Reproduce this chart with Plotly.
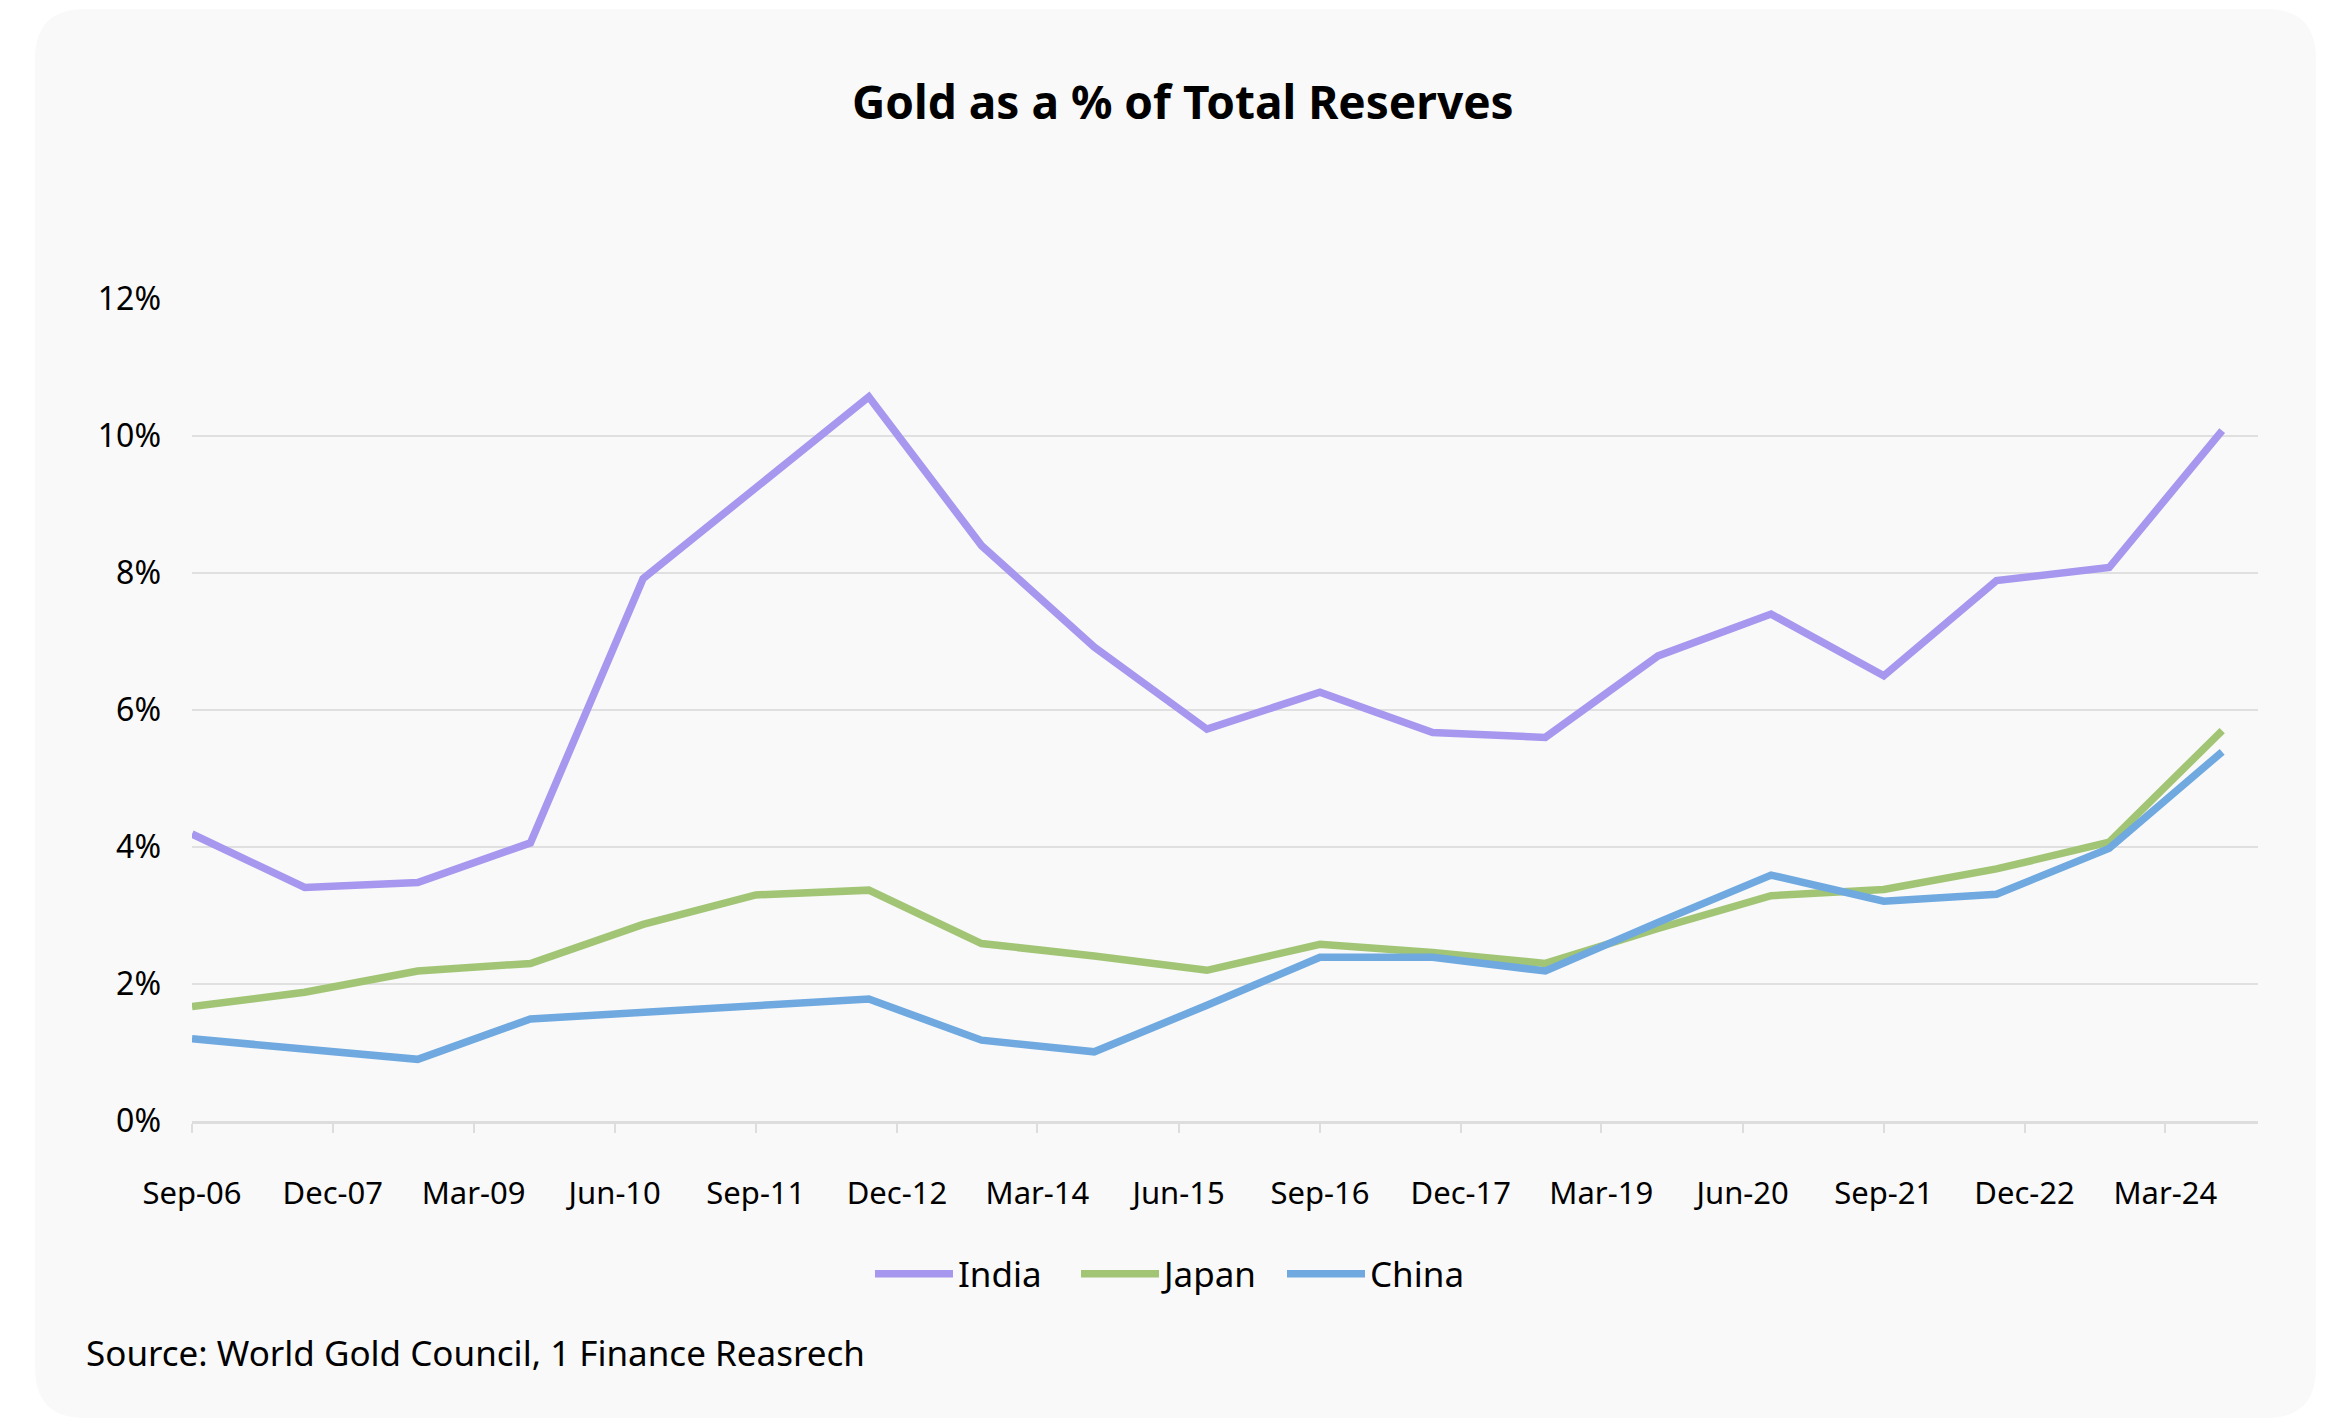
import plotly.graph_objects as go

# ---- data ----
dates = ["2006-09-01", "2007-09-01", "2008-09-01", "2009-09-01", "2010-09-01",
         "2011-09-01", "2012-09-01", "2013-09-01", "2014-09-01", "2015-09-01",
         "2016-09-01", "2017-09-01", "2018-09-01", "2019-09-01", "2020-09-01",
         "2021-09-01", "2022-09-01", "2023-09-01", "2024-09-01"]
india = [4.19, 3.41, 3.48, 4.06, 7.92, 9.25, 10.57, 8.40, 6.92, 5.72,
         6.26, 5.67, 5.60, 6.79, 7.40, 6.50, 7.89, 8.08, 10.08]
japan = [1.67, 1.88, 2.19, 2.30, 2.87, 3.30, 3.37, 2.59, 2.41, 2.20,
         2.58, 2.46, 2.30, 2.81, 3.29, 3.38, 3.68, 4.07, 5.70]
china = [1.20, 1.04, 0.90, 1.49, 1.58, 1.68, 1.78, 1.18, 1.01, 1.69,
         2.39, 2.39, 2.19, 2.90, 3.59, 3.21, 3.31, 3.98, 5.39]
series_names = ["India", "Japan", "China"]
series_colors = ["#A797EE", "#A1C575", "#6FA9E0"]
y_ticks = [0, 2, 4, 6, 8, 10, 12]
y_tick_labels = ["0%", "2%", "4%", "6%", "8%", "10%", "12%"]

FONT = "Noto Sans, Open Sans, sans-serif"

W, H = 2331, 1421
L, R, T, B = 192, 2331 - 2258, 299, 1421 - 1121
PW, PH = W - L - R, H - T - B


def px(x):
    return (x - L) / PW


def py(y):
    return (H - B - y) / PH


fig = go.Figure()
for name, vals, col in zip(series_names, [india, japan, china], series_colors):
    fig.add_trace(go.Scatter(
        x=dates, y=vals, name=name, mode="lines",
        line=dict(color=col, width=7.5),
    ))

# rounded card background
x0, x1 = px(35), px(2316)
y0, y1 = py(1418), py(9)
rx, ry = 50 / PW, 50 / PH
card_path = (f"M {x0+rx},{y1} L {x1-rx},{y1} Q {x1},{y1} {x1},{y1-ry} "
             f"L {x1},{y0+ry} Q {x1},{y0} {x1-rx},{y0} L {x0+rx},{y0} "
             f"Q {x0},{y0} {x0},{y0+ry} L {x0},{y1-ry} Q {x0},{y1} {x0+rx},{y1} Z")
fig.add_shape(type="path", path=card_path, xref="paper", yref="paper",
              fillcolor="#F9F9F9", line=dict(width=0), layer="below")

fig.add_annotation(text="<b>Gold as a % of Total Reserves</b>", x=px(1183), y=py(101),
                   xref="paper", yref="paper", showarrow=False,
                   xanchor="center", yanchor="middle",
                   font=dict(size=46, color="#000000", family=FONT))
fig.add_annotation(text="Source: World Gold Council, 1 Finance Reasrech", x=px(84), y=py(1352),
                   xref="paper", yref="paper", showarrow=False,
                   xanchor="left", yanchor="middle",
                   font=dict(size=35, color="#000000", family=FONT))

fig.update_layout(
    width=W, height=H,
    margin=dict(l=L, r=R, t=T, b=B, autoexpand=False),
    paper_bgcolor="#FFFFFF", plot_bgcolor="rgba(0,0,0,0)",
    font=dict(family=FONT, color="#000000"),
    showlegend=True,
    legend=dict(orientation="h", x=px(870), y=py(1274), xanchor="left", yanchor="middle",
                font=dict(size=35, family=FONT, color="#000000"),
                bgcolor="rgba(0,0,0,0)", itemwidth=78, tracegroupgap=0,
                entrywidth=113, entrywidthmode="pixels"),
    xaxis=dict(type="date", range=["2006-09-01", "2024-12-26"],
               tick0="2006-09-01", dtick="M15", tickformat="%b-%y",
               showgrid=False, zeroline=False,
               showline=True, linecolor="#DDDDDD", linewidth=3,
               ticks="outside", ticklen=9, tickwidth=2, tickcolor="#DDDDDD",
               tickfont=dict(size=31, family=FONT, color="#000000"),
               ticklabelstandoff=34),
    yaxis=dict(range=[0, 12], tickvals=y_ticks, ticktext=y_tick_labels,
               showgrid=True, gridcolor="#E0E0E0", gridwidth=2,
               zeroline=False, showline=False, ticks="",
               tickfont=dict(size=32, family=FONT, color="#000000"),
               ticklabelstandoff=30),
)

fig.write_html("out.html")
